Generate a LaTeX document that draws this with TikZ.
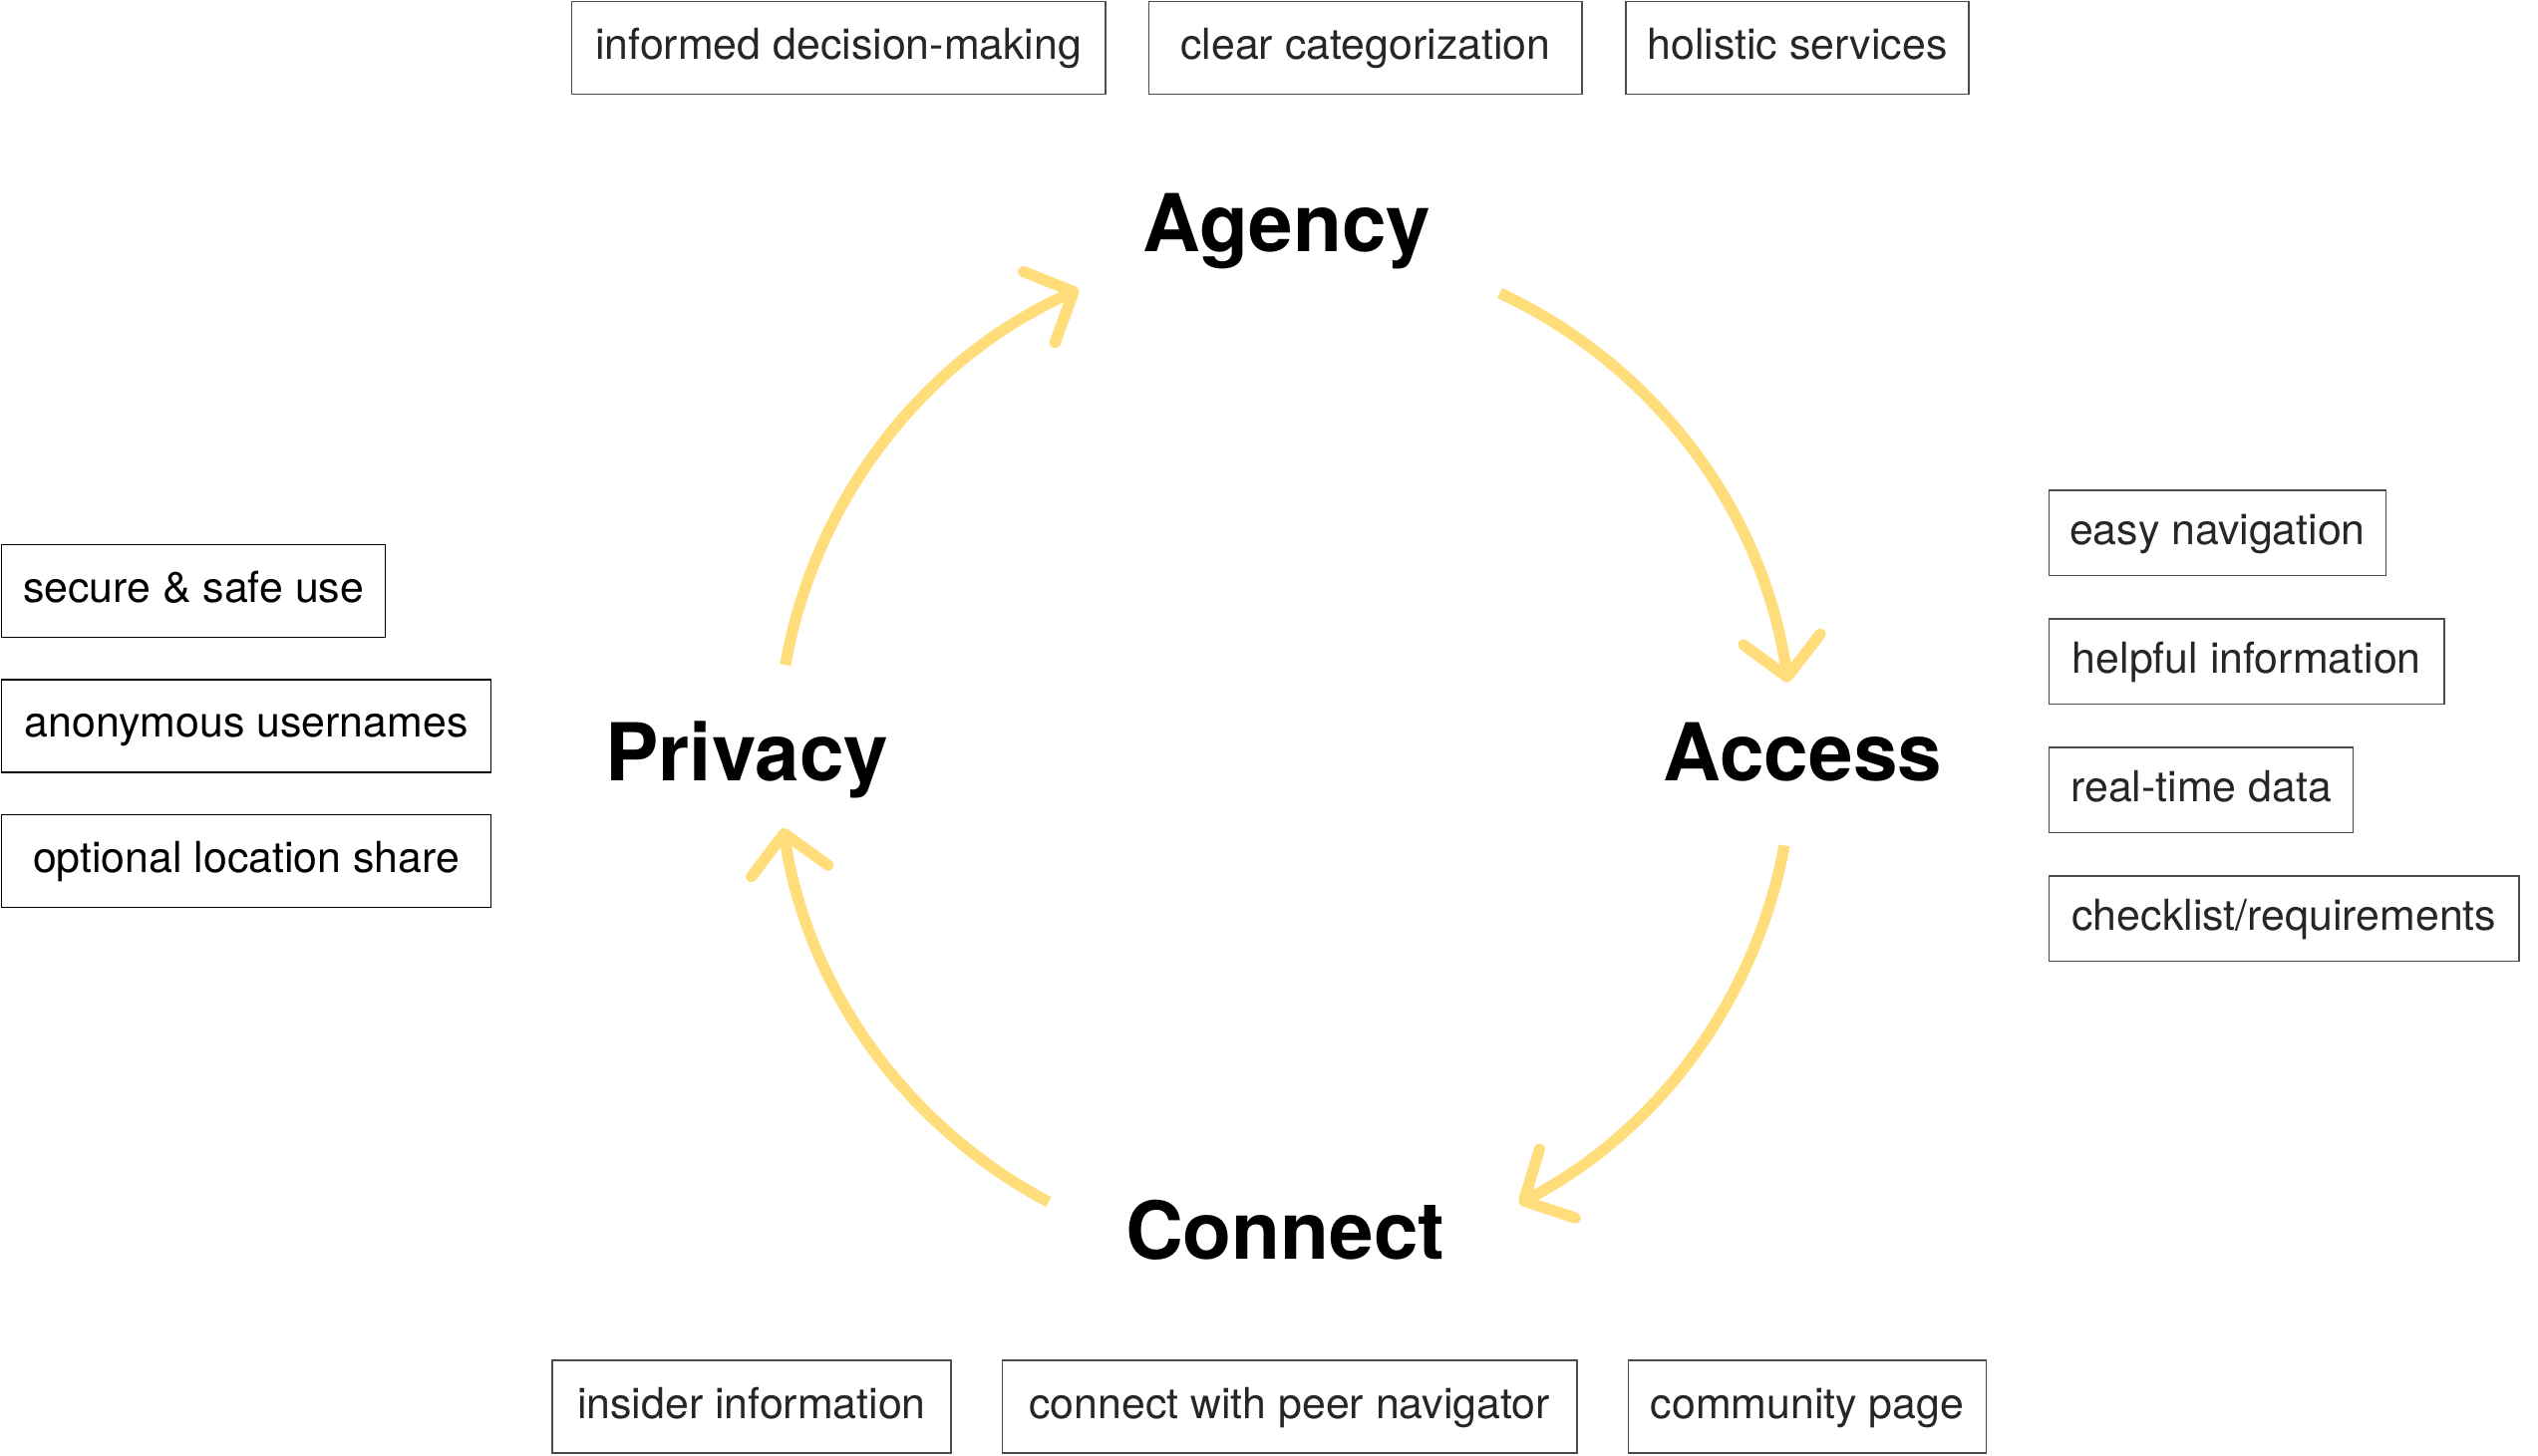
\documentclass[tikz,border=0pt]{standalone}
\usepackage{fontspec}
\setmainfont{TeX Gyre Heros}
\usetikzlibrary{arrows.meta,positioning}

\definecolor{loopyellow}{RGB}{254,221,122}

\begin{document}
\begin{tikzpicture}[
				x=0.01632cm, y=0.01632cm,
				phase/.style={font=\fontsize{22.8}{27}\selectfont\bfseries, anchor=base, inner sep=0pt},
				tag/.style={draw=black!70, text=black!85, line width=0.4pt, anchor=north west, inner sep=0pt, minimum height=0.93cm, text height=0.31cm, text depth=0.08cm, font=\fontsize{12.2}{14}\selectfont},
				ltag/.style={tag, draw=black, text=black},
				rtag/.style={tag, minimum height=0.857cm},
				wd/.style={minimum width=#1*0.01632cm},
				ring/.style={draw=loopyellow, line width=3.2pt, -{Straight Barb[length=0.38cm,width=0.78cm,round]}}
			]
			\useasboundingbox (0,0) rectangle (1560,894.6);

			\node[phase] (agency) at (791,739.6) {Agency};
			\node[phase] (privacy) at (459,414.6) {Privacy};
			\node[phase] (access) at (1108,414.6) {Access};
			\node[phase] (connect) at (790,120.6) {Connect};

			\coordinate (hub) at (790,431.6);
			\draw[ring] ([shift={(170:312)}]hub) arc[start angle=170, end angle=114, radius=312];
			\draw[ring] ([shift={(65:312)}]hub) arc[start angle=65, end angle=8, radius=312];
			\draw[ring] ([shift={(-10.5:312)}]hub) arc[start angle=-10.5, end angle=-62.6, radius=312];
			\draw[ring] ([shift={(242.2:312)}]hub) arc[start angle=242.2, end angle=188.5, radius=312];

			\node[tag, wd=328] (informed) at (351,894) {informed decision-making};
			\node[tag, wd=266, right=0.425cm of informed.north east, anchor=north west] (categorize) {clear categorization};
			\node[tag, wd=211, right=0.425cm of categorize.north east, anchor=north west] (holistic) {holistic services};

			\node[ltag, wd=236] (secure) at (0.5,560.1) {secure \& safe use};
			\node[ltag, wd=301, below=0.41cm of secure.south west, anchor=north west] (anon) {anonymous usernames};
			\node[ltag, wd=301, below=0.41cm of anon.south west, anchor=north west] (location) {optional location share};

			\node[rtag, wd=207] (navigation) at (1259,593.6) {easy navigation};
			\node[rtag, wd=243, below=0.42cm of navigation.south west, anchor=north west] (helpful) {helpful information};
			\node[rtag, wd=187, below=0.42cm of helpful.south west, anchor=north west] (realtime) {real-time data};
			\node[rtag, wd=289, below=0.42cm of realtime.south west, anchor=north west] (checklist) {checklist/requirements};

			\node[tag, wd=245] (insider) at (339,58.6) {insider information};
			\node[tag, wd=353.5, right=0.5cm of insider.north east, anchor=north west] (peer) {connect with peer navigator};
			\node[tag, wd=220, right=0.5cm of peer.north east, anchor=north west] (community) {community page};
		\end{tikzpicture}
\end{document}
